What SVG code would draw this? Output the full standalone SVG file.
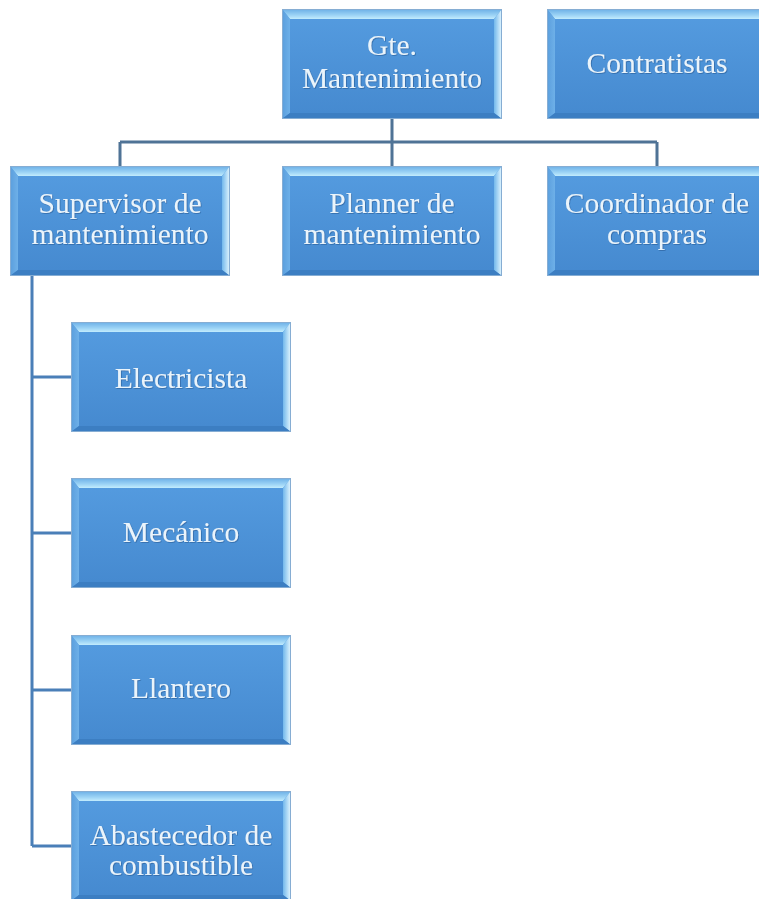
<svg xmlns="http://www.w3.org/2000/svg" xmlns:xlink="http://www.w3.org/1999/xlink" width="759" height="899" viewBox="0 0 759 899">
  <style>
    .lbl { font-family: "Liberation Serif", "Times New Roman", serif; font-size: 29.5px; fill: #eaf4fb; text-anchor: middle; filter: url(#txtShadow); }
    .wire { fill: none; stroke: #4f7396; stroke-width: 3; }
    .spine { fill: none; stroke: #4a7fb8; stroke-width: 3; }
  </style>
  <defs>
    <linearGradient id="face" x1="0" y1="0" x2="0" y2="1">
      <stop offset="0" stop-color="#559ce0"/>
      <stop offset="1" stop-color="#4589cf"/>
    </linearGradient>
    <linearGradient id="topBevel" x1="0" y1="0" x2="0" y2="1">
      <stop offset="0" stop-color="#6aaee6"/>
      <stop offset="0.6" stop-color="#9ad2f5"/>
      <stop offset="1" stop-color="#c2ecfd"/>
    </linearGradient>
    <linearGradient id="rightBevel" x1="0" y1="0" x2="1" y2="0">
      <stop offset="0" stop-color="#72b8ec"/>
      <stop offset="1" stop-color="#e6f8ff"/>
    </linearGradient>
    <linearGradient id="leftBevel" x1="0" y1="0" x2="1" y2="0">
      <stop offset="0" stop-color="#5a9edd"/>
      <stop offset="1" stop-color="#6eb0e8"/>
    </linearGradient>
    <filter id="txtShadow" x="-10%" y="-30%" width="120%" height="160%">
      <feDropShadow dx="0.8" dy="0.8" stdDeviation="0.7" flood-color="#1f4f86" flood-opacity="0.6"/>
    </filter>
    <!-- bevelled box, 220 x 110 -->
    <g id="box">
      <rect x="0" y="0" width="220" height="110" fill="url(#face)"/>
      <polygon points="0,0 220,0 212,10 8,10" fill="url(#topBevel)"/>
      <polygon points="0,0 8,10 8,104 0,110" fill="url(#leftBevel)"/>
      <polygon points="220,0 220,110 212,104 212,10" fill="url(#rightBevel)"/>
      <polygon points="0,110 8,104 212,104 220,110" fill="#3c7ec2"/>
      <rect x="0.5" y="0.5" width="219" height="109" fill="none" stroke="#86add3" stroke-width="1"/>
    </g>
  </defs>

  <g id="connectors">
    <path class="wire" d="M392,119 V142 M120,142 H657 M120,142 V166 M392,142 V166 M657,142 V166"/>
    <path class="spine" d="M32,276 V846 M32,377 H71 M32,533 H71 M32,690 H71 M32,846 H71"/>
  </g>

  <g id="gte-mantenimiento">
    <use xlink:href="#box" x="282" y="9"/>
    <text class="lbl" x="392" y="55">Gte.</text>
    <text class="lbl" x="392" y="88">Mantenimiento</text>
  </g>
  <g id="contratistas">
    <use xlink:href="#box" x="547" y="9"/>
    <text class="lbl" x="657" y="73">Contratistas</text>
  </g>
  <g id="supervisor">
    <use xlink:href="#box" x="10" y="166"/>
    <text class="lbl" x="120" y="213">Supervisor de</text>
    <text class="lbl" x="120" y="244">mantenimiento</text>
  </g>
  <g id="planner">
    <use xlink:href="#box" x="282" y="166"/>
    <text class="lbl" x="392" y="213">Planner de</text>
    <text class="lbl" x="392" y="244">mantenimiento</text>
  </g>
  <g id="coordinador">
    <use xlink:href="#box" x="547" y="166"/>
    <text class="lbl" x="657" y="213">Coordinador de</text>
    <text class="lbl" x="657" y="244">compras</text>
  </g>
  <g id="electricista">
    <use xlink:href="#box" x="71" y="322"/>
    <text class="lbl" x="181" y="388">Electricista</text>
  </g>
  <g id="mecanico">
    <use xlink:href="#box" x="71" y="478"/>
    <text class="lbl" x="181" y="542">Mecánico</text>
  </g>
  <g id="llantero">
    <use xlink:href="#box" x="71" y="635"/>
    <text class="lbl" x="181" y="698">Llantero</text>
  </g>
  <g id="abastecedor">
    <use xlink:href="#box" x="71" y="791"/>
    <text class="lbl" x="181" y="845">Abastecedor de</text>
    <text class="lbl" x="181" y="875">combustible</text>
  </g>
</svg>
